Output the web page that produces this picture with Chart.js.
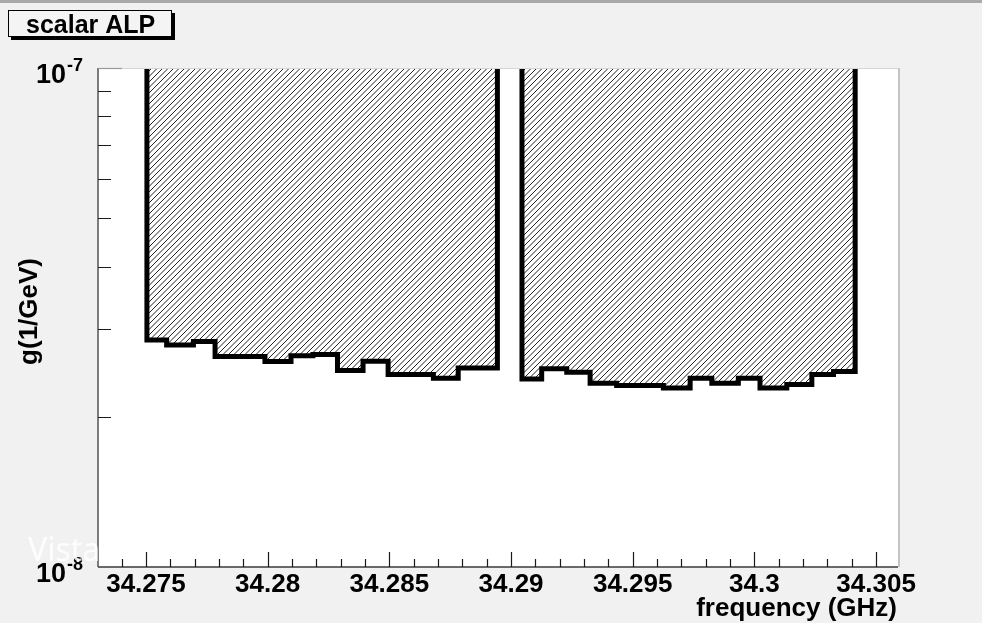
<!DOCTYPE html>
<html lang="en">
<head>
<meta charset="UTF-8">
<title>scalar ALP</title>
<script src="https://cdn.jsdelivr.net/npm/chart.js"></script>
<style>
    * { margin: 0; padding: 0; box-sizing: border-box; }
    body { background: #f1f1f1; width: 982px; height: 623px; overflow: hidden; }
    canvas { display: block; }
</style>
</head>
<body>
<canvas id="limitChart" width="982" height="623"></canvas>
<script>
    // bin edges (GHz) and excluded coupling g (1/GeV), one pair per scan
    const leftEdges = [34.27504, 34.27585, 34.27695, 34.27784, 34.27989, 34.28096, 34.28186,
                       34.28287, 34.28392, 34.28495, 34.28681, 34.28783, 34.28944];
    const leftLimits = [2.85e-8, 2.785e-8, 2.83e-8, 2.64e-8, 2.58e-8, 2.65e-8,
                        2.665e-8, 2.475e-8, 2.585e-8, 2.43e-8, 2.39e-8, 2.505e-8];
    const rightEdges = [34.29045, 34.29126, 34.29229, 34.29325, 34.29434, 34.29626, 34.29736,
                        34.29825, 34.29934, 34.30023, 34.30133, 34.30236, 34.30325, 34.30414];
    const rightLimits = [2.38e-8, 2.495e-8, 2.455e-8, 2.335e-8, 2.31e-8, 2.285e-8, 2.39e-8,
                         2.335e-8, 2.39e-8, 2.285e-8, 2.32e-8, 2.43e-8, 2.465e-8];

    const xRange = [34.27303, 34.3059];
    const yRange = [1e-8, 1e-7];
    const xTickValues = [34.275, 34.28, 34.285, 34.29, 34.295, 34.3, 34.305];
    const xTickLabels = ['34.275', '34.28', '34.285', '34.29', '34.295', '34.3', '34.305'];
    const xMinorStart = 34.274, xMinorStep = 0.001;
    const yTickValues = [1e-8, 1e-7];
    const yTickExponents = ['-8', '-7'];
    const yMinorValues = [2e-8, 3e-8, 4e-8, 5e-8, 6e-8, 7e-8, 8e-8, 9e-8];

    const FONT = '"Liberation Sans", Arial, Helvetica, sans-serif';

    // closed step outline: up to the top edge at both ends
    function stepPoints(edges, limits) {
        const pts = [{ x: edges[0], y: yRange[1] }];
        limits.forEach((v, i) => pts.push({ x: edges[i], y: v }));
        pts.push({ x: edges[edges.length - 1], y: limits[limits.length - 1] });
        pts.push({ x: edges[edges.length - 1], y: yRange[1] });
        return pts;
    }

    const canvas = document.getElementById('limitChart');
    const ctx = canvas.getContext('2d');

    // 45 degree "/" hatching, about 5.5 px apart
    function hatchPattern() {
        const s = 11;
        const c = document.createElement('canvas');
        c.width = c.height = s;
        const g = c.getContext('2d');
        g.strokeStyle = '#222';
        g.lineWidth = 1;
        g.beginPath();
        [-s, -s / 2, 0, s / 2, s].forEach(o => {
            g.moveTo(o - 1, s + 1);
            g.lineTo(o + s + 1, -1);
        });
        g.stroke();
        return ctx.createPattern(c, 'repeat');
    }
    const hatch = hatchPattern();

    const frame = {
        id: 'frame',
        beforeDraw(chart) {
            const c = chart.ctx, a = chart.chartArea;
            c.save();
            c.fillStyle = '#f1f1f1';
            c.fillRect(0, 0, chart.width, chart.height);
            c.fillStyle = '#a9a9a9';
            c.fillRect(0, 0, chart.width, 3);
            c.fillStyle = '#ffffff';
            c.fillRect(a.left, a.top, a.right - a.left, a.bottom - a.top);
            c.restore();
        },
        afterDraw(chart) {
            const c = chart.ctx, a = chart.chartArea;
            const xs = chart.scales.x, ys = chart.scales.y;
            c.save();

            // frame
            c.lineWidth = 1;
            c.strokeStyle = '#d6d6d6';
            c.beginPath(); c.moveTo(a.left, a.top + 0.5); c.lineTo(a.right, a.top + 0.5); c.stroke();
            c.lineWidth = 2;
            c.strokeStyle = '#c4c4c4';
            c.beginPath(); c.moveTo(a.right + 1, a.top); c.lineTo(a.right + 1, a.bottom); c.stroke();
            c.strokeStyle = '#7c7c7c';
            c.beginPath(); c.moveTo(a.left, a.top); c.lineTo(a.left, a.bottom); c.stroke();
            c.lineWidth = 1.5;
            c.strokeStyle = '#3a3a3a';
            c.beginPath(); c.moveTo(a.left, a.bottom); c.lineTo(a.right, a.bottom); c.stroke();

            // x ticks (inside, upward)
            c.strokeStyle = '#1a1a1a';
            c.lineWidth = 1.2;
            c.beginPath();
            for (let k = 0; ; k++) {
                const v = xMinorStart + k * xMinorStep;
                if (v > xRange[1]) break;
                const px = Math.round(xs.getPixelForValue(v)) + 0.5;
                const major = xTickValues.some(t => Math.abs(t - v) < 1e-7);
                c.moveTo(px, a.bottom);
                c.lineTo(px, a.bottom - (major ? 15 : 8));
            }
            // y ticks (inside, rightward)
            yMinorValues.forEach(v => {
                const py = Math.round(ys.getPixelForValue(v)) + 0.5;
                c.moveTo(a.left, py);
                c.lineTo(a.left + 13, py);
            });
            c.stroke();
            c.strokeStyle = '#9a9a9a';
            c.beginPath();
            c.moveTo(a.left, a.top + 0.5); c.lineTo(a.left + 24, a.top + 0.5);
            c.stroke();

            // x tick labels
            c.fillStyle = '#000';
            c.font = 'bold 26px ' + FONT;
            c.textAlign = 'center';
            c.textBaseline = 'alphabetic';
            xTickValues.forEach((v, i) => {
                c.fillText(xTickLabels[i], xs.getPixelForValue(v), a.bottom + 25);
            });

            // y tick labels: 10 with superscript exponent
            yTickValues.forEach((v, i) => {
                const py = ys.getPixelForValue(v);
                c.font = 'bold 27px ' + FONT;
                c.textAlign = 'right';
                c.fillText('10', 66, py + 15);
                c.font = 'bold 18px ' + FONT;
                c.textAlign = 'left';
                c.fillText(yTickExponents[i], 67, py + 3);
            });

            // axis titles
            c.font = 'bold 26px ' + FONT;
            c.textAlign = 'right';
            c.fillText('frequency (GHz)', 897, 616);
            c.save();
            c.translate(37, 258);
            c.rotate(-Math.PI / 2);
            c.fillText('g(1/GeV)', 0, 0);
            c.restore();

            // title box with shadow
            c.fillStyle = '#000';
            c.fillRect(11, 13, 164, 27);
            c.fillStyle = '#f4f4f4';
            c.fillRect(8, 10, 164, 27);
            c.strokeStyle = '#000';
            c.lineWidth = 1;
            c.strokeRect(8.5, 10.5, 163, 26);
            c.fillStyle = '#000';
            c.font = 'bold 25px ' + FONT;
            c.textAlign = 'left';
            c.fillText('scalar ALP', 26, 33);

            // faint watermark
            c.fillStyle = 'rgba(255,255,255,0.85)';
            c.font = '32px "Noto Sans", sans-serif';
            c.fillText('Vista', 28, 561);

            c.restore();
        }
    };

    const outline = {
        stepped: 'before',
        borderColor: '#000',
        borderWidth: 5,
        borderJoinStyle: 'miter',
        borderCapStyle: 'butt',
        backgroundColor: hatch,
        fill: 'end',
        pointRadius: 0,
        tension: 0,
        clip: 0
    };

    new Chart(ctx, {
        type: 'line',
        data: {
            datasets: [
                Object.assign({ label: 'scan 1', data: stepPoints(leftEdges, leftLimits) }, outline),
                Object.assign({ label: 'scan 2', data: stepPoints(rightEdges, rightLimits) }, outline)
            ]
        },
        options: {
            responsive: false,
            animation: false,
            layout: { padding: { left: 98, top: 68, right: 84, bottom: 56 } },
            plugins: { legend: { display: false }, tooltip: { enabled: false } },
            scales: {
                x: { type: 'linear', min: xRange[0], max: xRange[1], display: false },
                y: { type: 'logarithmic', min: yRange[0], max: yRange[1], display: false }
            }
        },
        plugins: [frame]
    });
</script>
</body>
</html>
